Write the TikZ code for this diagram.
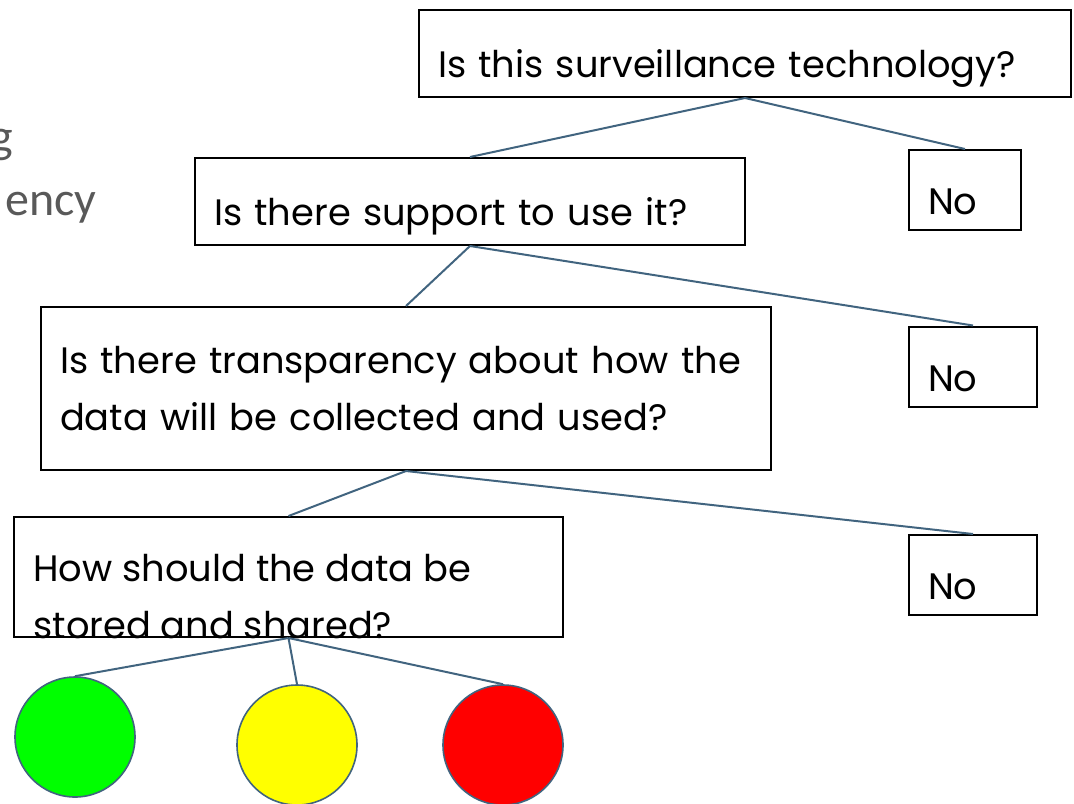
\documentclass[tikz,border=0pt]{standalone}
\usepackage{fontspec}
\setmainfont{Poppins}
\newfontfamily\slidefont{Carlito}
\usetikzlibrary{positioning}
\definecolor{linkblue}{HTML}{41647F}
\definecolor{slidegray}{HTML}{595959}
\definecolor{dotgreen}{HTML}{00FF00}
\definecolor{dotyellow}{HTML}{FFFF00}
\definecolor{dotred}{HTML}{FF0000}
\tikzset{
  qbox/.style={draw=black, line width=1pt, inner xsep=9.5pt, inner ysep=0pt, align=left,
    font=\fontsize{18.4}{28.5}\selectfont},
  onebox/.style={qbox, text height=23.5pt, text depth=0pt},
  nobox/.style={qbox, minimum height=40pt, text height=24.5pt, text depth=0pt},
  dot/.style={circle, draw=linkblue, line width=0.8pt, minimum size=60pt, inner sep=0pt},
  link/.style={draw=linkblue, line width=1pt},
}

\begin{document}
\begin{tikzpicture}[x=0.5pt, y=-0.5pt]
  \useasboundingbox (0,0) rectangle (1074,803);
  % cut-off slide title
  \node [anchor=east, inner sep=0pt, text=slidegray, font=\slidefont\fontsize{24}{24}\selectfont] (titleA) at (13,145) {g};
  \node [anchor=east, inner sep=0pt, text=slidegray, font=\slidefont\fontsize{24}{24}\selectfont] (titleB) at (97,208) {ency};

  \node [onebox, text width=307pt, minimum height=43.5pt] (tech) at (745,53.5) {Is this surveillance technology?};
  \node [onebox, text width=256pt, minimum height=43.5pt] (support) at (470,201.5) {Is there support to use it?};
  \node [nobox, text width=37pt] (no1) at (965,190) {No};
  \node [qbox, text width=346pt, minimum height=81.5pt] (transp) at (406,388.5) {Is there transparency about how the\\ data will be collected and used?};
  \node [nobox, text width=45pt] (no2) at (973,366.5) {No};
  \node [qbox, minimum width=274.5pt, minimum height=60pt] (store) at (288.5,577) {};
  \node [anchor=north west, inner sep=0pt, align=left, font=\fontsize{18.4}{28.5}\selectfont] (storetext) at (33,554) {How should the data be\\ stored and shared?};
  \node [nobox, text width=45pt] (no3) at (973,575) {No};

  \node [dot, fill=dotgreen] (green) at (75,737) {};
  \node [dot, fill=dotyellow] (yellow) at (297,745) {};
  \node [dot, fill=dotred] (red) at (503,745) {};

  \draw [link] (tech.south) -- (support.north);
  \draw [link] (tech.south) -- (no1.north);
  \draw [link] (support.south) -- (transp.north);
  \draw [link] (support.south) -- (no2.north);
  \draw [link] (transp.south) -- (store.north);
  \draw [link] (transp.south) -- (no3.north);
  \draw [link] (store.south) -- (green.north);
  \draw [link] (store.south) -- (yellow.north);
  \draw [link] (store.south) -- (red.north);
\end{tikzpicture}
\end{document}
